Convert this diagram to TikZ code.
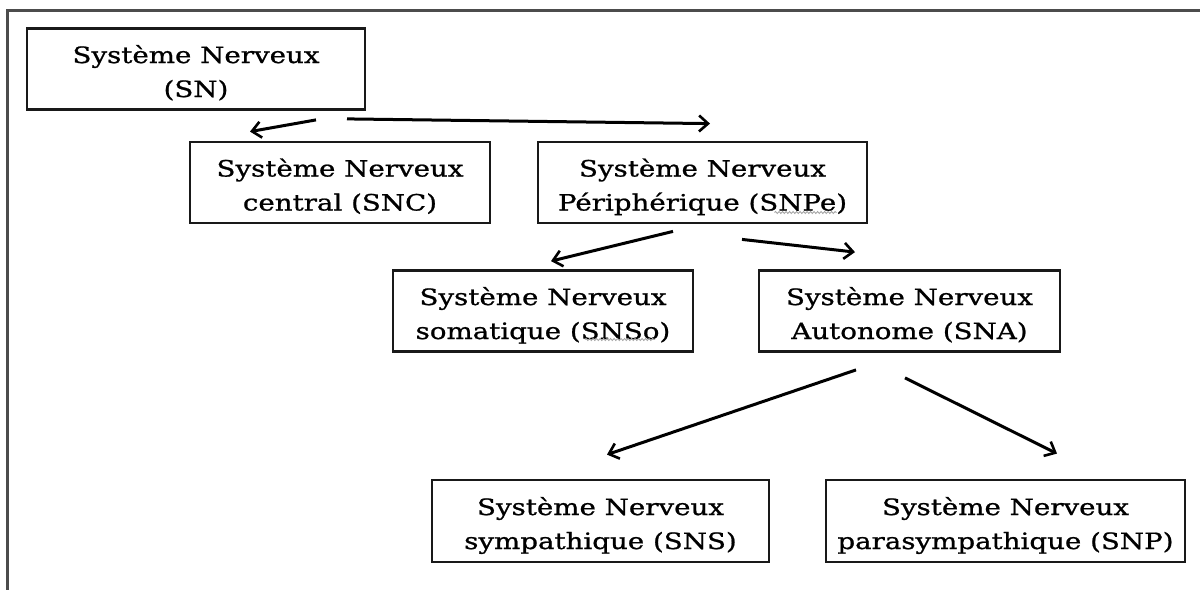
\documentclass[tikz,border=0pt]{standalone}
\usepackage{fontspec}
\setmainfont{DejaVu Serif}[FakeStretch=1.23,FakeBold=0.9]
\usetikzlibrary{arrows.meta,calc,decorations.pathmorphing}
\newcommand{\twoline}[2]{\rule{0pt}{28pt}#1\\#2\rule[-6pt]{0pt}{6pt}}
\begin{document}
\begin{tikzpicture}[x=1pt,y=-1pt,
  box/.style={draw=black!90,line width=2.8pt,minimum height=81pt,inner sep=0pt,align=center,
    font=\fontsize{22.5}{34}\selectfont},
  arr/.style={draw=black,line width=3pt,-{Straight Barb[length=9pt,width=16pt,line width=2.6pt]}},
  squig/.style={draw=black!35,line width=0.9pt,decorate,decoration={snake,amplitude=1pt,segment length=3.5pt}},
  frame/.style={draw=black!70,line width=2.2pt}]
\useasboundingbox (0,0) rectangle (1200,590);
\draw[frame] (1200,10.5) -- (7.5,10.5) -- (7.5,590);
\node[box,minimum width=338pt] (SN) at (196,69) {\twoline{Système Nerveux}{(SN)}};
\node[box,minimum width=300pt] (SNC) at (340,182.5) {\twoline{Système Nerveux}{central (SNC)}};
\node[box,minimum width=329pt] (SNPe) at (702.5,182.5) {\twoline{Système Nerveux}{Périphérique (SNPe)}};
\node[box,minimum width=300pt] (SNSo) at (543,311) {\twoline{Système Nerveux}{somatique (SNSo)}};
\node[box,minimum width=301pt] (SNA) at (909.5,311) {\twoline{Système Nerveux}{Autonome (SNA)}};
\node[box,minimum width=337pt,minimum height=82pt] (SNS) at (600.5,521) {\twoline{Système Nerveux}{sympathique (SNS)}};
\node[box,minimum width=359pt,minimum height=82pt] (SNP) at (1005.5,521) {\twoline{Système Nerveux}{parasympathique (SNP)}};
\draw[squig] ([shift={(72,30)}]SNPe.center) -- ([shift={(134,30)}]SNPe.center);
\draw[squig] ([shift={(42,28.5)}]SNSo.center) -- ([shift={(112,28.5)}]SNSo.center);
\draw[arr] ([shift={(120,9)}]SN.south) -- ([shift={(-90,-9)}]SNC.north);
\draw[arr] ([shift={(151,8)}]SN.south) -- ([shift={(7.5,-17)}]SNPe.north);
\draw[arr] ([shift={(-29.5,7)}]SNPe.south) -- ([shift={(8,-8)}]SNSo.north);
\draw[arr] ([shift={(39.5,15)}]SNPe.south) -- ([shift={(-54.5,-17)}]SNA.north);
\draw[arr] ([shift={(-53.5,17)}]SNA.south) -- ([shift={(6.5,-24)}]SNS.north);
\draw[arr] ([shift={(-4.5,25)}]SNA.south) -- ([shift={(51.5,-25)}]SNP.north);
\end{tikzpicture}
\end{document}
